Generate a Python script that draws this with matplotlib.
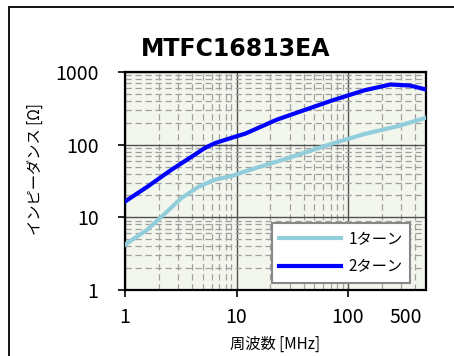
import numpy as np
import matplotlib
matplotlib.use("Agg")
import matplotlib.pyplot as plt
from matplotlib.patches import Rectangle
from matplotlib.ticker import NullFormatter, LogLocator

plt.rcParams['font.family'] = ['Noto Sans CJK JP', 'DejaVu Sans']

# 1-turn series (frequency [MHz], impedance [ohm])
freq_1turn = [1, 1.57, 2.3, 3.2, 4.5, 6.4, 9.3, 12, 26, 70, 140, 280, 500]
imp_1turn = [4.2, 6.7, 11.4, 18.4, 26, 33, 37.5, 43, 62, 102, 140, 180, 235]

# 2-turn series
freq_2turn = [1, 1.6, 2.6, 4, 5.2, 6.4, 9, 12, 23, 70, 140, 240, 360, 500]
imp_2turn = [16.5, 26.6, 45, 69, 90, 105, 124, 142, 221, 400, 560, 673, 651, 574]

series_labels = ["1ターン", "2ターン"]
x_ticks = [1, 10, 100]
y_ticks = [1, 10, 100, 1000]


fig = plt.figure(figsize=(4.54, 3.56), dpi=100)

# Outer chart frame (runs off the right and bottom of the image)
fig.patches.append(Rectangle((9 / 454, -0.1), 1.0, 1 - 7 / 356 + 0.1,
                             transform=fig.transFigure, fill=False,
                             edgecolor='black', linewidth=1.3))

ax = fig.add_axes([125 / 454, 1 - 290 / 356, 301 / 454, 218 / 356])
ax.set_facecolor('#f2f6ec')

ax.plot(freq_1turn, imp_1turn, color='#92cddc', linewidth=3.0, label=series_labels[0], zorder=3)
ax.plot(freq_2turn, imp_2turn, color='#0000ff', linewidth=3.0, label=series_labels[1], zorder=3)

ax.set_xscale('log')
ax.set_yscale('log')
ax.set_xlim(1, 500)
ax.set_ylim(1, 1000)

ax.set_xticks(x_ticks)
ax.set_xticklabels([str(v) for v in x_ticks])
ax.set_yticks(y_ticks)
ax.set_yticklabels([str(v) for v in y_ticks])
ax.xaxis.set_minor_locator(LogLocator(base=10, subs=np.arange(2, 10)))
ax.yaxis.set_minor_locator(LogLocator(base=10, subs=np.arange(2, 10)))
ax.xaxis.set_minor_formatter(NullFormatter())
ax.yaxis.set_minor_formatter(NullFormatter())
ax.tick_params(which='minor', length=0)
ax.tick_params(which='major', direction='out', length=5, width=1.2, labelsize=14, colors='black')
ax.tick_params(axis='x', pad=7)
ax.tick_params(axis='y', pad=14)

# "500" label sits a bit inside the right edge, same row as the tick labels
ax.annotate("500", xy=(330, 0), xycoords=('data', 'axes fraction'),
            xytext=(0, -12), textcoords='offset points',
            ha='center', va='top', fontsize=14)

ax.grid(which='major', color='#505050', linewidth=1.0, linestyle='-')
ax.grid(which='minor', color='#a0a0a0', linewidth=0.9, linestyle=(0, (5, 3)))
ax.set_axisbelow(True)

for spine in ax.spines.values():
    spine.set_linewidth(1.6)
    spine.set_color('black')

ax.set_xlabel("周波数 [MHz]", fontsize=11)
ax.xaxis.set_label_coords(0.5, -0.21)
ax.set_ylabel("インピーダンス [Ω]", fontsize=11)
ax.yaxis.set_label_coords(-0.27, 0.555)

fig.text(236 / 454, 1 - 49 / 356, "MTFC16813EA", ha='center', va='center',
         fontsize=17, fontweight='bold', family='DejaVu Sans')

legend = ax.legend(loc='lower right', bbox_to_anchor=(0.947, 0.032), fontsize=11,
                   frameon=True, fancybox=False, handlelength=4.0, borderpad=0.5,
                   labelspacing=0.7, borderaxespad=0, handletextpad=0.5)
legend.get_frame().set_edgecolor('#888888')
legend.get_frame().set_linewidth(1.5)
legend.get_frame().set_facecolor('white')
legend.get_frame().set_alpha(1)

plt.savefig("out.png", dpi=100)
